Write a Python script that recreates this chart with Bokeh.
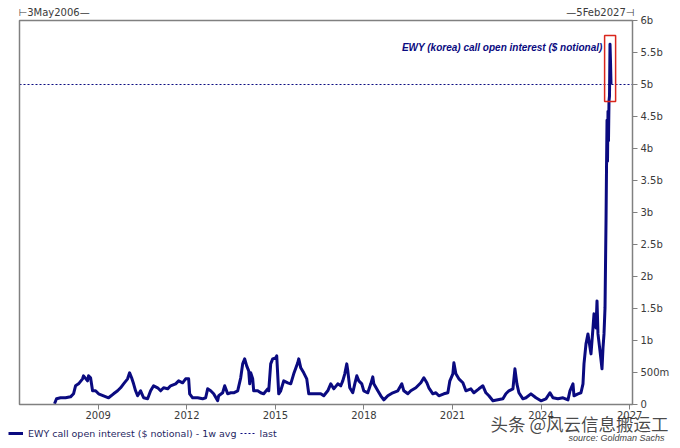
from bokeh.plotting import figure
from bokeh.models import (Range1d, FixedTicker, CustomJSTickFormatter, Label,
                          Legend, LegendItem, BoxAnnotation, ColumnDataSource)
from bokeh.embed import file_html
from bokeh.resources import INLINE

# ---------------- data ----------------
YEARS = [
    2007.520, 2007.588, 2007.724, 2007.893, 2008.063, 2008.164, 2008.232, 2008.334,
    2008.470, 2008.503, 2008.639, 2008.673, 2008.741, 2008.809, 2008.910, 2009.012,
    2009.181, 2009.351, 2009.520, 2009.656, 2009.758, 2009.859, 2009.995, 2010.063,
    2010.131, 2010.198, 2010.266, 2010.334, 2010.436, 2010.537, 2010.673, 2010.775,
    2010.876, 2011.012, 2011.114, 2011.215, 2011.351, 2011.453, 2011.622, 2011.724,
    2011.859, 2011.961, 2012.063, 2012.097, 2012.198, 2012.368, 2012.537, 2012.639,
    2012.707, 2012.809, 2012.910, 2013.046, 2013.080, 2013.215, 2013.283, 2013.385,
    2013.487, 2013.588, 2013.724, 2013.826, 2013.893, 2013.961, 2014.029, 2014.097,
    2014.131, 2014.165, 2014.232, 2014.266, 2014.402, 2014.503, 2014.605, 2014.741,
    2014.775, 2014.842, 2014.910, 2015.012, 2015.046, 2015.114, 2015.181, 2015.283,
    2015.419, 2015.521, 2015.622, 2015.758, 2015.792, 2015.860, 2015.961, 2016.063,
    2016.131, 2016.266, 2016.436, 2016.537, 2016.639, 2016.775, 2016.876, 2016.978,
    2017.114, 2017.215, 2017.283, 2017.351, 2017.419, 2017.453, 2017.520, 2017.622,
    2017.690, 2017.758, 2017.826, 2017.927, 2017.995, 2018.131, 2018.232, 2018.300,
    2018.334, 2018.470, 2018.571, 2018.673, 2018.809, 2018.978, 2019.148, 2019.283,
    2019.351, 2019.487, 2019.588, 2019.758, 2019.927, 2020.029, 2020.131, 2020.198,
    2020.334, 2020.436, 2020.537, 2020.707, 2020.842, 2020.910, 2021.012, 2021.046,
    2021.114, 2021.215, 2021.351, 2021.453, 2021.622, 2021.724, 2021.893, 2022.029,
    2022.131, 2022.232, 2022.368, 2022.537, 2022.707, 2022.808, 2022.910, 2023.046,
    2023.114, 2023.181, 2023.249, 2023.385, 2023.487, 2023.656, 2023.826, 2023.995,
    2024.164, 2024.300, 2024.402, 2024.571, 2024.741, 2024.910, 2024.978, 2025.080,
    2025.114, 2025.249, 2025.351, 2025.419, 2025.453, 2025.521, 2025.588, 2025.622,
    2025.690, 2025.758, 2025.792, 2025.860, 2025.894, 2025.927, 2025.995, 2026.063,
    2026.097, 2026.131, 2026.165, 2026.199, 2026.216, 2026.233, 2026.250, 2026.266,
    2026.283, 2026.300, 2026.317, 2026.334, 2026.351, 2026.368,
]
OPEN_INTEREST_BN = [
    0.011, 0.089, 0.105, 0.105, 0.120, 0.167, 0.292, 0.323,
    0.401, 0.448, 0.370, 0.448, 0.417, 0.214, 0.214, 0.167,
    0.136, 0.105, 0.167, 0.214, 0.261, 0.323, 0.401, 0.495,
    0.417, 0.323, 0.214, 0.136, 0.214, 0.105, 0.089, 0.214,
    0.292, 0.261, 0.214, 0.261, 0.245, 0.292, 0.323, 0.370,
    0.339, 0.401, 0.401, 0.167, 0.105, 0.105, 0.089, 0.105,
    0.245, 0.214, 0.167, 0.058, 0.136, 0.183, 0.292, 0.167,
    0.183, 0.183, 0.214, 0.417, 0.635, 0.713, 0.604, 0.526,
    0.323, 0.495, 0.401, 0.214, 0.214, 0.183, 0.167, 0.245,
    0.214, 0.635, 0.713, 0.729, 0.761, 0.167, 0.214, 0.370,
    0.339, 0.323, 0.479, 0.651, 0.713, 0.573, 0.495, 0.401,
    0.167, 0.167, 0.167, 0.167, 0.136, 0.214, 0.323, 0.245,
    0.323, 0.292, 0.370, 0.479, 0.635, 0.526, 0.261, 0.183,
    0.323, 0.448, 0.370, 0.323, 0.214, 0.183, 0.323, 0.432,
    0.323, 0.214, 0.136, 0.073, 0.136, 0.183, 0.214, 0.323,
    0.214, 0.167, 0.214, 0.261, 0.339, 0.417, 0.339, 0.261,
    0.167, 0.183, 0.136, 0.167, 0.183, 0.370, 0.479, 0.651,
    0.479, 0.401, 0.339, 0.214, 0.245, 0.183, 0.245, 0.292,
    0.183, 0.136, 0.058, 0.073, 0.089, 0.167, 0.214, 0.245,
    0.557, 0.323, 0.183, 0.089, 0.105, 0.167, 0.105, 0.058,
    0.089, 0.183, 0.105, 0.089, 0.105, 0.073, 0.214, 0.323,
    0.136, 0.167, 0.183, 0.323, 0.635, 0.947, 1.103, 0.994,
    0.791, 1.197, 1.416, 1.197, 1.619, 1.103, 0.838, 0.557,
    0.885, 1.103, 1.509, 2.860, 3.690, 4.440, 3.800, 4.580,
    4.120, 4.740, 4.820, 5.630, 5.360, 5.000,
]
X_TICKS = [2009, 2012, 2015, 2018, 2021, 2024, 2027]
Y_TICKS = [0, 0.5, 1, 1.5, 2, 2.5, 3, 3.5, 4, 4.5, 5, 5.5, 6]
RANGE_START_LABEL = "3May2006"
RANGE_END_LABEL = "5Feb2027"
SERIES_NAME = "EWY call open interest ($ notional) - 1w avg"
LAST_NAME = "last"
ANNOTATION = "EWY (korea) call open interest ($ notional)"
SOURCE = "source: Goldman Sachs"
WATERMARK = "头条 @风云信息搬运工"

# ---------------- layout / style ----------------
X_START, X_END = 2006.334, 2027.096     # plotted date window
Y_START, Y_END = 0.0, 6.0               # value window ($bn)
BOX_LEFT, BOX_RIGHT, BOX_BOTTOM, BOX_TOP = 2026.151, 2026.524, 4.734, 5.766
W, H = 680, 448
PLOT_L, PLOT_R, PLOT_T, PLOT_B = 19, 632, 20, 404   # plot box in canvas px
NAVY = "#0a0a80"
GREY = "#808080"
TXT = "#3a3a3a"
FONT = "DejaVu Sans"

ppx = (PLOT_R - PLOT_L) / (X_END - X_START)
ppy = (PLOT_B - PLOT_T) / (Y_END - Y_START)
x_lo = X_START - PLOT_L / ppx
x_hi = X_END + (W - PLOT_R) / ppx
y_lo = Y_START - (H - PLOT_B) / ppy
y_hi = Y_END + PLOT_T / ppy


def cx(px):
    return x_lo + px / ppx


def cy(py):
    return y_hi - py / ppy


p = figure(width=W, height=H, x_range=Range1d(x_lo, x_hi),
           y_range=Range1d(y_lo, y_hi), y_axis_location="right",
           output_backend="svg", toolbar_location=None,
           min_border=0, min_border_left=0, min_border_right=0,
           min_border_top=0, min_border_bottom=0,
           background_fill_color="white", border_fill_color="white")
p.outline_line_color = None
p.xgrid.visible = False
p.ygrid.visible = False

for ax in (p.xaxis[0], p.yaxis[0]):
    ax.axis_line_color = None
    ax.major_tick_line_color = GREY
    ax.major_tick_line_width = 1
    ax.major_tick_in = 0
    ax.major_tick_out = 5
    ax.minor_tick_line_color = None
    ax.major_label_text_font = FONT
    ax.major_label_text_font_size = "10px"
    ax.major_label_text_color = TXT

xa = p.xaxis[0]
xa.fixed_location = Y_START
xa.bounds = (X_START, X_END)
xa.ticker = FixedTicker(ticks=X_TICKS)
xa.major_label_standoff = 1

ya = p.yaxis[0]
ya.fixed_location = X_END
ya.bounds = (Y_START, Y_END)
ya.ticker = FixedTicker(ticks=Y_TICKS)
ya.major_label_standoff = 3
ya.formatter = CustomJSTickFormatter(code="""
    if (tick == 0) { return '0'; }
    if (tick < 1) { return (tick * 1000).toFixed(0) + 'm'; }
    return tick + 'b';
""")

# plot box
p.add_layout(BoxAnnotation(left=X_START, right=X_END, bottom=Y_START, top=Y_END,
                           fill_alpha=0, line_color=GREY, line_alpha=1.0,
                           line_width=1.5))

src = ColumnDataSource(dict(x=YEARS, y=OPEN_INTEREST_BN))
last_val = OPEN_INTEREST_BN[-1]
last_r = p.line(x=[X_START, X_END], y=[last_val, last_val], line_color=NAVY,
                line_width=1, line_dash="2 2")
main_r = p.line("x", "y", source=src, line_color=NAVY, line_width=3,
                line_join="round")

p.add_layout(BoxAnnotation(left=BOX_LEFT, right=BOX_RIGHT, bottom=BOX_BOTTOM,
                           top=BOX_TOP, fill_alpha=0, line_color="#d9261c",
                           line_alpha=1.0, line_width=1.5))

p.add_layout(Label(x=cx(602), y=cy(47), text=ANNOTATION, text_align="right",
                   text_baseline="middle", text_font="Liberation Sans",
                   text_font_style="bold italic", text_font_size="10px",
                   text_color=NAVY))

p.add_layout(Label(x=cx(18), y=cy(12), text="⊢" + RANGE_START_LABEL + "—",
                   text_align="left", text_baseline="middle", text_font=FONT,
                   text_font_size="10px", text_color=TXT))
p.add_layout(Label(x=cx(634), y=cy(12), text="—" + RANGE_END_LABEL + "⊣",
                   text_align="right", text_baseline="middle", text_font=FONT,
                   text_font_size="10px", text_color=TXT))
p.add_layout(Label(x=cx(490), y=cy(423), text=WATERMARK, text_align="left",
                   text_baseline="middle", text_font="Noto Sans CJK SC",
                   text_font_size="17.5px", text_color="#2a2a2a", text_alpha=0.85))
p.add_layout(Label(x=cx(664), y=cy(437), text=SOURCE, text_align="right",
                   text_baseline="middle", text_font="Liberation Sans",
                   text_font_style="italic", text_font_size="9px",
                   text_color="#444444"))

legend = Legend(items=[LegendItem(label=SERIES_NAME, renderers=[main_r]),
                       LegendItem(label=LAST_NAME, renderers=[last_r])],
                location=(8, H - 440), orientation="horizontal",
                border_line_color=None, background_fill_alpha=0,
                padding=0, margin=0, spacing=3, glyph_width=15,
                glyph_height=14, label_standoff=5, label_height=14,
                label_text_font=FONT, label_text_font_size="9.5px",
                label_text_color="#1f1f5f")
p.add_layout(legend, "center")

open("out.html", "w").write(file_html(p, INLINE))
